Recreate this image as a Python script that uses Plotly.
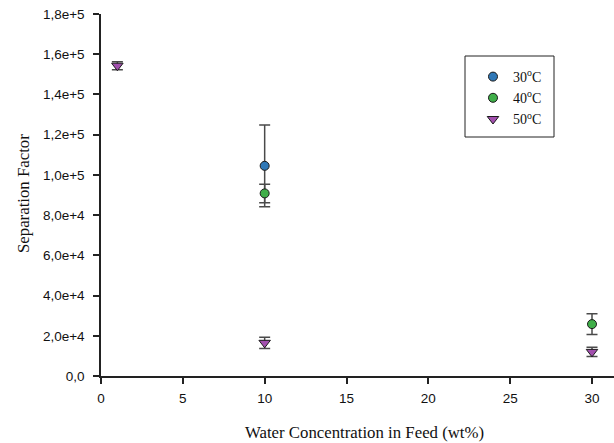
import plotly.graph_objects as go

# Water concentration in feed (wt%) and separation factor per temperature
x_30 = [10]
y_30 = [104500]
err_30 = [20300]

x_40 = [10, 30]
y_40 = [90800, 25800]
err_40 = [4600, 5200]

x_50 = [1, 10, 30]
y_50 = [154300, 16500, 12000]
err_50 = [2000, 2800, 2300]

y_ticks = [0, 20000, 40000, 60000, 80000, 100000, 120000, 140000, 160000, 180000]
y_ticktext = ["0,0", "2,0e+4", "4,0e+4", "6,0e+4", "8,0e+4", "1,0e+5",
              "1,2e+5", "1,4e+5", "1,6e+5", "1,8e+5"]
x_ticks = [0, 5, 10, 15, 20, 25, 30]

W, H = 614, 443
L, R, T, B = 101, 0, 14, 67
pw, ph = W - L - R, H - T - B

def px_x(p):
    return (p - L) / pw

def px_y(p):
    return (H - B - p) / ph

err_style = dict(type="data", thickness=1.5, width=5.5, color="#4a4a4a")
mk_line = dict(color="#1a1a1a", width=1)
serif = "Liberation Serif, Times New Roman, serif"

fig = go.Figure()
fig.add_trace(go.Scatter(
    x=x_30, y=y_30, mode="markers", name="30<sup>o</sup>C",
    marker=dict(symbol="circle", size=9, color="#2f78b7", line=mk_line),
    error_y=dict(array=err_30, **err_style),
))
fig.add_trace(go.Scatter(
    x=x_40, y=y_40, mode="markers", name="40<sup>o</sup>C",
    marker=dict(symbol="circle", size=9, color="#3fae48", line=mk_line),
    error_y=dict(array=err_40, **err_style),
))
fig.add_trace(go.Scatter(
    x=x_50, y=y_50, mode="markers", name="50<sup>o</sup>C",
    marker=dict(symbol="triangle-down", size=10, color="#a24fae", line=mk_line),
    error_y=dict(array=err_50, **err_style),
))

axis_common = dict(
    showline=True, linecolor="#222222", linewidth=1.5,
    ticks="outside", ticklen=6, tickwidth=1.5, tickcolor="#222222",
    showgrid=False, zeroline=False, mirror=False,
    tickfont=dict(family="Liberation Sans, Arial, sans-serif", size=13.5, color="#111111"),
)

fig.update_layout(
    width=W, height=H,
    margin=dict(l=L, r=R, t=T, b=B),
    paper_bgcolor="white", plot_bgcolor="white",
    showlegend=True,
    legend=dict(
        x=px_x(473), y=px_y(61), xanchor="left", yanchor="top",
        bgcolor="rgba(0,0,0,0)", borderwidth=0,
        font=dict(family=serif, size=14, color="#111111"),
        tracegroupgap=0,
    ),
    xaxis=dict(range=[0, (W - L) / ((592 - 101) / 30)], tickvals=x_ticks,
               ticktext=[str(v) for v in x_ticks], ticklabelstandoff=3, **axis_common),
    yaxis=dict(range=[0, 180000], tickvals=y_ticks, ticktext=y_ticktext,
               ticklabelstandoff=6, **axis_common),
    shapes=[dict(type="rect", xref="paper", yref="paper",
                 x0=px_x(465), x1=px_x(554), y0=px_y(137), y1=px_y(56),
                 line=dict(color="#222222", width=1))],
    annotations=[
        dict(text="Water Concentration in Feed (wt%)", xref="paper", yref="paper",
             x=px_x(364), y=px_y(432), xanchor="center", yanchor="middle",
             showarrow=False,
             font=dict(family=serif, size=16.8, color="#111111")),
        dict(text="Separation Factor", xref="paper", yref="paper",
             x=px_x(24), y=px_y(194), xanchor="center", yanchor="middle",
             textangle=-90, showarrow=False,
             font=dict(family=serif, size=16.8, color="#111111")),
    ],
)

fig.write_html("out.html")
